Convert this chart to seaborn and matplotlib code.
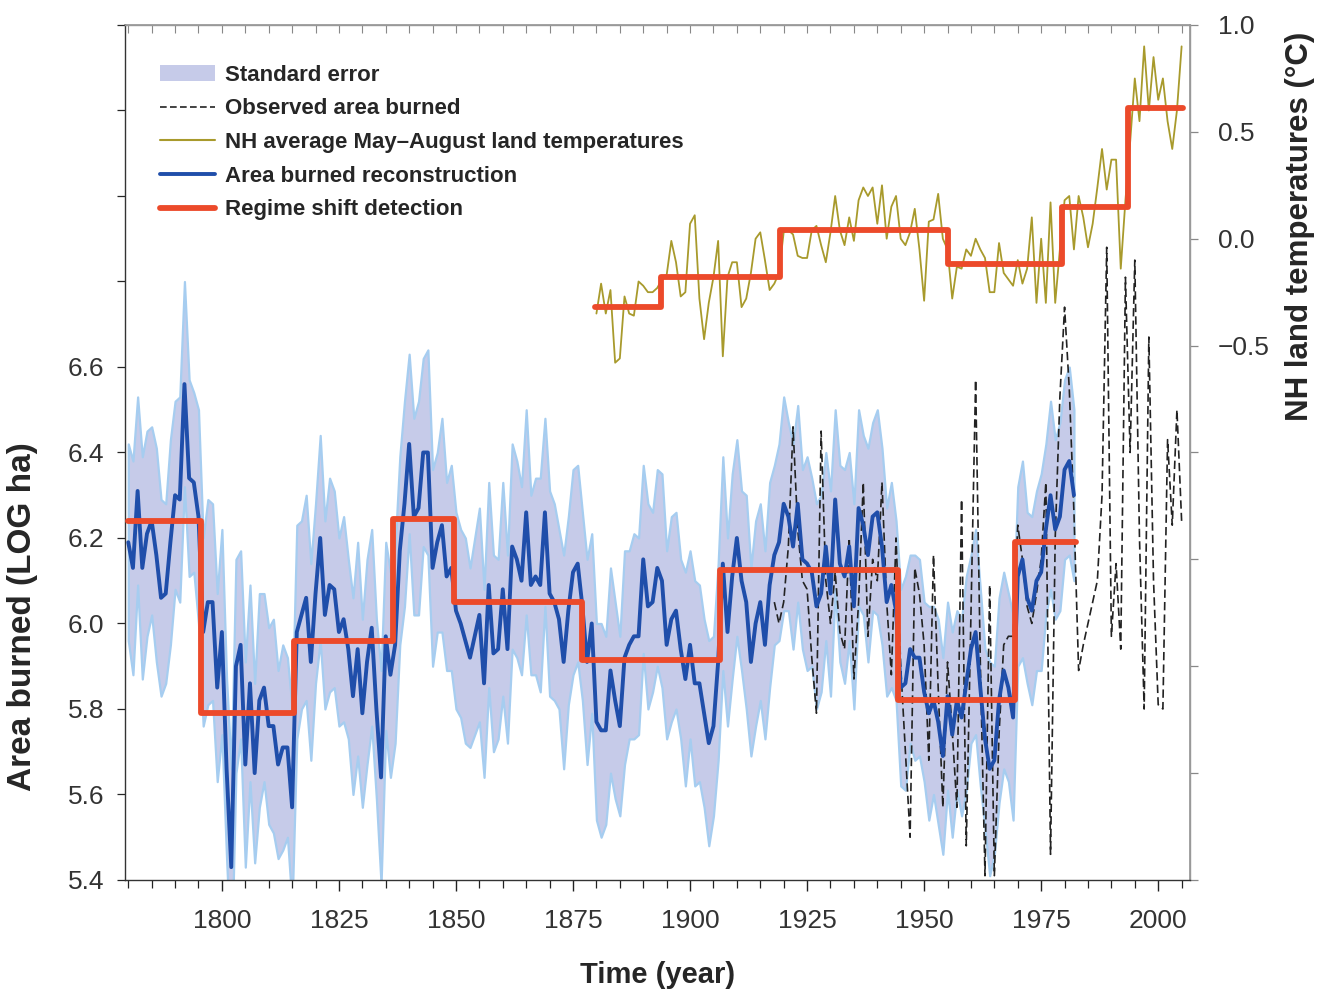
import numpy as np
import pandas as pd
import matplotlib
matplotlib.use("Agg")
import matplotlib.pyplot as plt
import seaborn as sns
from matplotlib.ticker import MultipleLocator, FuncFormatter
from matplotlib.patches import Patch
from matplotlib.lines import Line2D

# ---------------- data ----------------
recon_years = list(range(1780, 1983))
recon_vals = [
    6.19, 6.13, 6.31, 6.13, 6.21, 6.24, 6.16, 6.06, 6.07, 6.19,
    6.30, 6.29, 6.56, 6.34, 6.33, 6.25, 5.98, 6.05, 6.05, 5.85,
    5.98, 5.66, 5.43, 5.90, 5.95, 5.67, 5.86, 5.65, 5.82, 5.85,
    5.76, 5.76, 5.67, 5.71, 5.71, 5.57, 5.98, 6.02, 6.06, 5.91,
    6.07, 6.20, 6.02, 6.09, 6.08, 5.98, 6.01, 5.94, 5.83, 5.94,
    5.79, 5.91, 5.99, 5.80, 5.64, 5.97, 5.88, 5.95, 6.17, 6.28,
    6.42, 6.25, 6.27, 6.40, 6.40, 6.13, 6.19, 6.23, 6.11, 6.13,
    6.03, 6.00, 5.96, 5.92, 5.97, 6.02, 5.86, 6.09, 5.93, 5.94,
    6.08, 5.94, 6.18, 6.15, 6.10, 6.26, 6.09, 6.11, 6.09, 6.26,
    6.07, 6.05, 6.01, 5.91, 6.03, 6.12, 6.14, 6.04, 5.91, 6.00,
    5.77, 5.75, 5.75, 5.89, 5.82, 5.76, 5.92, 5.95, 5.97, 5.97,
    6.15, 6.04, 6.05, 6.13, 6.10, 5.95, 6.01, 6.03, 5.94, 5.87,
    5.95, 5.86, 5.86, 5.79, 5.72, 5.76, 5.91, 6.14, 5.98, 6.11,
    6.20, 6.10, 6.05, 5.91, 6.00, 6.05, 5.95, 6.09, 6.16, 6.19,
    6.28, 6.25, 6.18, 6.28, 6.15, 6.14, 6.12, 6.04, 6.07, 6.18,
    6.07, 6.29, 6.14, 6.11, 6.18, 6.04, 6.27, 6.23, 6.16, 6.25,
    6.26, 6.18, 6.05, 6.09, 6.03, 5.85, 5.86, 5.94, 5.92, 5.92,
    5.84, 5.79, 5.82, 5.77, 5.69, 5.83, 5.74, 5.82, 5.78, 5.86,
    5.94, 5.98, 5.85, 5.73, 5.66, 5.68, 5.82, 5.89, 5.85, 5.78,
    6.11, 6.15, 6.06, 6.03, 6.10, 6.12, 6.22, 6.30, 6.22, 6.25,
    6.36, 6.38, 6.30,
]
recon_se = [
    0.23, 0.25, 0.22, 0.26, 0.24, 0.22, 0.25, 0.23, 0.21, 0.24,
    0.22, 0.24, 0.24, 0.23, 0.21, 0.25, 0.22, 0.24, 0.23, 0.22,
    0.24, 0.21, 0.23, 0.25, 0.22, 0.24, 0.23, 0.21, 0.25, 0.22,
    0.23, 0.25, 0.22, 0.24, 0.21, 0.23, 0.25, 0.22, 0.24, 0.23,
    0.21, 0.24, 0.22, 0.25, 0.23, 0.22, 0.24, 0.21, 0.23, 0.25,
    0.22, 0.24, 0.23, 0.21, 0.25, 0.22, 0.24, 0.23, 0.22, 0.24,
    0.21, 0.23, 0.25, 0.22, 0.24, 0.23, 0.21, 0.25, 0.22, 0.24,
    0.23, 0.22, 0.24, 0.21, 0.23, 0.25, 0.22, 0.24, 0.23, 0.21,
    0.25, 0.22, 0.24, 0.23, 0.22, 0.24, 0.21, 0.23, 0.25, 0.22,
    0.24, 0.23, 0.21, 0.25, 0.22, 0.24, 0.23, 0.22, 0.24, 0.21,
    0.23, 0.25, 0.22, 0.24, 0.23, 0.21, 0.25, 0.22, 0.24, 0.23,
    0.22, 0.24, 0.21, 0.23, 0.25, 0.22, 0.24, 0.23, 0.21, 0.25,
    0.22, 0.24, 0.23, 0.22, 0.24, 0.21, 0.23, 0.25, 0.22, 0.24,
    0.23, 0.21, 0.25, 0.22, 0.24, 0.23, 0.22, 0.24, 0.21, 0.23,
    0.25, 0.22, 0.24, 0.23, 0.21, 0.25, 0.22, 0.24, 0.23, 0.22,
    0.24, 0.21, 0.23, 0.25, 0.22, 0.24, 0.23, 0.21, 0.25, 0.22,
    0.24, 0.23, 0.22, 0.24, 0.21, 0.23, 0.25, 0.22, 0.24, 0.23,
    0.21, 0.25, 0.22, 0.24, 0.23, 0.22, 0.24, 0.21, 0.23, 0.25,
    0.22, 0.24, 0.23, 0.21, 0.25, 0.22, 0.24, 0.23, 0.22, 0.24,
    0.21, 0.23, 0.20, 0.22, 0.21, 0.23, 0.20, 0.22, 0.21, 0.22,
    0.21, 0.22, 0.20,
]

obs_years = list(range(1918, 2006))
obs_vals = [
    6.05, 6.00, 6.05, 6.18, 6.46, 6.22, 6.10, 6.08, 5.92, 5.79, 6.45, 6.10,
    6.00, 6.12, 5.98, 5.94, 6.20, 5.87, 6.05, 6.33, 5.97, 6.15,
    6.10, 6.33, 6.05, 5.88, 6.20, 5.90, 5.70, 5.50, 6.13, 6.07,
    5.95, 5.68, 6.16, 5.85, 5.57, 5.91, 5.75, 5.57, 6.29, 5.48,
    6.02, 6.57, 5.91, 5.41, 6.09, 5.41, 5.74, 5.95, 5.97, 5.97,
    6.23, 6.15, 6.04, 6.00, 6.07, 6.15, 6.33, 5.46, 6.20, 6.53,
    6.74, 6.55, 6.26, 5.89, 5.95, 6.00, 6.05, 6.10, 6.30, 6.88,
    5.97, 6.14, 5.94, 6.81, 6.40, 6.85, 6.20, 5.80, 6.67, 6.10,
    5.81, 5.80, 6.43, 6.23, 6.50, 6.24,
]

temp_years = list(range(1880, 2006))
temp_vals = [
    -0.35, -0.21, -0.35, -0.24, -0.58, -0.56, -0.27, -0.35, -0.36, -0.20,
    -0.22, -0.25, -0.25, -0.23, -0.19, -0.17, -0.01, -0.11, -0.27, -0.25,
    0.07, 0.11, -0.28, -0.47, -0.30, -0.18, -0.01, -0.55, -0.18, -0.11,
    -0.11, -0.32, -0.28, -0.16, 0.00, 0.03, -0.10, -0.24, -0.21, -0.16,
    0.03, 0.04, 0.02, -0.08, -0.09, -0.09, 0.04, 0.06, -0.03, -0.11,
    0.03, 0.20, 0.04, -0.03, 0.10, -0.01, 0.18, 0.24, 0.20, 0.24,
    0.07, 0.25, 0.00, 0.15, 0.20, 0.00, -0.03, 0.03, 0.14, -0.05,
    -0.29, 0.08, 0.09, 0.21, 0.00, -0.05, -0.28, -0.13, -0.14, -0.05,
    -0.08, 0.00, -0.05, -0.09, -0.25, -0.25, -0.02, -0.16, -0.19, -0.22,
    -0.10, -0.21, -0.14, 0.10, -0.30, 0.00, -0.30, 0.17, -0.30, -0.05,
    0.18, 0.20, -0.05, 0.20, 0.10, -0.04, 0.07, 0.24, 0.42, 0.23,
    0.37, 0.37, -0.14, 0.18, 0.45, 0.75, 0.55, 0.90, 0.60, 0.85,
    0.65, 0.75, 0.55, 0.42, 0.60, 0.90,
]

# regime shifts: breakpoints (segment starts + final end) and levels
area_shift_years = [1780, 1795.5, 1815.5, 1836.5, 1849.5, 1877, 1906.5, 1944.5, 1969.5, 1982.5]
area_shift_levels = [6.24, 5.79, 5.96, 6.245, 6.05, 5.915, 6.125, 5.82, 6.19]
temp_shift_years = [1879.7, 1893.8, 1919.2, 1955.1, 1979.5, 1993.6, 2005.3]
temp_shift_levels = [-0.32, -0.18, 0.04, -0.12, 0.15, 0.61]

# ---------------- style ----------------
sns.set_theme(style="ticks")
plt.rcParams["font.family"] = ["Liberation Sans", "DejaVu Sans"]

C_BAND = "#c6cbe9"
C_BAND_EDGE = "#a6cdf0"
C_BLUE = "#1f4eaa"
C_RED = "#ec4a2a"
C_OLIVE = "#a89a2c"

fig = plt.figure(figsize=(13.17, 9.96), dpi=100)
ax = fig.add_axes([0.0949, 0.1165, 0.8087, 0.8584])
ax2 = ax.twinx()

recon = pd.DataFrame({"year": recon_years, "val": recon_vals, "se": recon_se})
obs = pd.DataFrame({"year": obs_years, "val": obs_vals})
temp = pd.DataFrame({"year": temp_years, "val": temp_vals})
area_steps = pd.DataFrame({"year": area_shift_years,
                           "val": area_shift_levels + [area_shift_levels[-1]]})
temp_steps = pd.DataFrame({"year": temp_shift_years,
                           "val": temp_shift_levels + [temp_shift_levels[-1]]})

# standard error band
ax.fill_between(recon["year"], recon["val"] - recon["se"], recon["val"] + recon["se"],
                facecolor=C_BAND, edgecolor=C_BAND_EDGE, linewidth=1.6, zorder=1)
# observed area burned
sns.lineplot(data=obs, x="year", y="val", ax=ax, color="#222222", lw=1.2,
             linestyle=(0, (5, 2.5)), estimator=None, zorder=2)
# reconstruction
sns.lineplot(data=recon, x="year", y="val", ax=ax, color=C_BLUE, lw=2.8,
             estimator=None, zorder=3)
# regime shifts (area)
sns.lineplot(data=area_steps, x="year", y="val", ax=ax, color=C_RED, lw=4.2,
             drawstyle="steps-post", estimator=None, zorder=4)

# temperature
sns.lineplot(data=temp, x="year", y="val", ax=ax2, color=C_OLIVE, lw=1.3,
             estimator=None, zorder=2)
sns.lineplot(data=temp_steps, x="year", y="val", ax=ax2, color=C_RED, lw=4.2,
             drawstyle="steps-post", estimator=None, zorder=3)

# ---------------- axes ----------------
ax.set_xlim(1779.3, 2006.8)
ax.set_ylim(5.4, 7.4)
ax2.set_ylim(-3.0, 1.0)

ax.xaxis.set_major_locator(MultipleLocator(25))
ax.xaxis.set_minor_locator(MultipleLocator(5))
ax.yaxis.set_major_locator(MultipleLocator(0.2))
ax.yaxis.set_major_formatter(FuncFormatter(lambda v, p: f"{v:.1f}" if v < 6.65 else ""))
ax2.yaxis.set_major_locator(MultipleLocator(0.5))
ax2.yaxis.set_major_formatter(
    FuncFormatter(lambda v, p: (f"{v:.1f}".replace("-", "\u2212")) if v > -0.55 else ""))

ax.tick_params(axis="x", which="both", direction="out", bottom=True, top=False,
               labelsize=19, pad=13, colors="#222222", labelcolor="#333333")
ax.tick_params(axis="x", which="major", length=8, width=1.0)
ax.tick_params(axis="x", which="minor", length=6, width=0.9)
ax.tick_params(axis="y", which="major", direction="out", length=6, width=0.9,
                labelsize=19, pad=9, labelcolor="#333333")
ax2.tick_params(axis="y", which="major", direction="out", length=6, width=0.9,
                labelsize=19, pad=14, colors="#888888", labelcolor="#333333")

# top ticks (inward, every 5 years)
sec = ax.secondary_xaxis("top")
sec.xaxis.set_major_locator(MultipleLocator(5))
sec.tick_params(direction="in", length=6, width=0.8, labeltop=False, colors="#888888")
sec.spines["top"].set_visible(False)

for s in ["top", "right"]:
    ax.spines[s].set_color("#999999")
    ax2.spines[s].set_color("#999999")
ax.spines["left"].set_color("#333333")
ax.spines["bottom"].set_color("#333333")
for s in ax.spines.values():
    s.set_linewidth(1.0)
ax2.spines["left"].set_visible(False)
ax2.spines["bottom"].set_visible(False)

ax.set_xlabel("Time (year)", fontsize=21, fontweight="bold", labelpad=20)
ax.set_ylabel("Area burned (LOG ha)", fontsize=24, fontweight="bold")
ax.yaxis.set_label_coords(-0.082, 0.308)
ax2.set_ylabel("NH land temperatures (\u00b0C)", fontsize=22.5, fontweight="bold",
               rotation=90)
ax2.yaxis.set_label_coords(1.089, 0.765)
ax.set_zorder(ax2.get_zorder() + 1)
ax.patch.set_visible(False)

handles = [
    Patch(facecolor=C_BAND, edgecolor="none"),
    Line2D([0], [0], color="#222222", lw=1.2, linestyle=(0, (4, 2))),
    Line2D([0], [0], color=C_OLIVE, lw=1.5),
    Line2D([0], [0], color=C_BLUE, lw=2.8),
    Line2D([0], [0], color=C_RED, lw=4.2),
]
labels = ["Standard error", "Observed area burned",
          "NH average May\u2013August land temperatures",
          "Area burned reconstruction", "Regime shift detection"]
ax.legend(handles, labels, loc="upper left", bbox_to_anchor=(0.014, 0.977),
          frameon=False, prop={"weight": "bold", "size": 16},
          handlelength=2.5, handletextpad=0.45, labelspacing=0.57)

fig.savefig("out.png", dpi=100)
